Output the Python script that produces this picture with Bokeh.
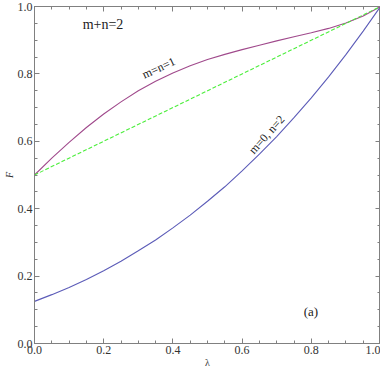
from bokeh.plotting import figure
from bokeh.models import (LinearAxis, SingleIntervalTicker, PrintfTickFormatter, Range1d, Label,
                          CustomJSTickFormatter)
from bokeh.embed import file_html
from bokeh.resources import INLINE

lam = [0.00, 0.05, 0.10, 0.15, 0.20, 0.25, 0.30, 0.35, 0.40, 0.45, 0.50,
       0.55, 0.60, 0.65, 0.70, 0.75, 0.80, 0.85, 0.90, 0.95, 1.00]
F_m0n2 = [0.125, 0.145, 0.166, 0.190, 0.216, 0.244, 0.275, 0.307, 0.343, 0.381, 0.422,
          0.465, 0.512, 0.562, 0.614, 0.670, 0.729, 0.791, 0.857, 0.927, 1.000]
F_m1n1 = [0.500, 0.550, 0.597, 0.641, 0.681, 0.717, 0.750, 0.778, 0.803, 0.824, 0.843,
          0.858, 0.872, 0.885, 0.898, 0.910, 0.922, 0.935, 0.951, 0.972, 1.000]
lam_lin = [0.0, 1.0]
F_lin = [0.5, 1.0]

SERIF = "'Liberation Serif', 'Times New Roman', serif"
AX = "#808080"

p = figure(width=380, height=370, x_range=Range1d(0, 1), y_range=Range1d(0, 1),
           output_backend="svg", toolbar_location=None,
           min_border_left=24, min_border_right=0, min_border_top=6, min_border_bottom=20)
p.grid.visible = False
p.outline_line_color = AX
p.background_fill_color = "white"
p.border_fill_color = "white"

def style(ax, labels=True):
    ax.ticker = SingleIntervalTicker(interval=0.2, num_minor_ticks=4)
    ax.axis_line_color = AX
    ax.major_tick_line_color = AX
    ax.minor_tick_line_color = AX
    ax.major_tick_in = 5
    ax.major_tick_out = 0
    ax.minor_tick_in = 3
    ax.minor_tick_out = 0
    ax.major_label_text_font = SERIF
    ax.major_label_text_font_size = "12px"
    ax.major_label_text_color = "#333333"
    ax.axis_label_text_font = SERIF
    ax.axis_label_text_font_size = "10px"
    ax.axis_label_text_font_style = "italic"
    ax.axis_label_text_color = "#333333"
    if labels:
        ax.formatter = PrintfTickFormatter(format="%.1f")
        ax.major_label_standoff = 2
        ax.axis_label_standoff = 0
    else:
        ax.formatter = CustomJSTickFormatter(code="return ''")
        ax.major_label_text_font_size = "1px"
        ax.major_label_standoff = 0

style(p.xaxis[0])
style(p.yaxis[0])
p.xaxis[0].axis_label = "λ"
p.xaxis[0].axis_label_text_font_style = "normal"
p.yaxis[0].axis_label = "F"

top = LinearAxis()
style(top, labels=False)
p.add_layout(top, "above")
right = LinearAxis()
style(right, labels=False)
p.add_layout(right, "right")

p.line(lam, F_m0n2, line_color="#5c5cb8", line_width=1.1)
p.line(lam, F_m1n1, line_color="#a04a8c", line_width=1.1)
p.line(lam_lin, F_lin, line_color="#4cee3c", line_width=1.1, line_dash="4 2")

def lab(x, y, t, size, angle=0):
    p.add_layout(Label(x=x, y=y, text=t, text_font=SERIF, text_font_size=size,
                       text_color="#222222", text_align="center", text_baseline="middle",
                       angle=angle, angle_units="deg"))

lab(0.198, 0.947, "m+n=2", "14px")
lab(0.799, 0.094, "(a)", "13px")
lab(0.359, 0.818, "m=n=1", "12px", 25)
lab(0.671, 0.620, "m=0, n=2", "12px", 48)

open("out.html", "w").write(file_html(p, INLINE))
